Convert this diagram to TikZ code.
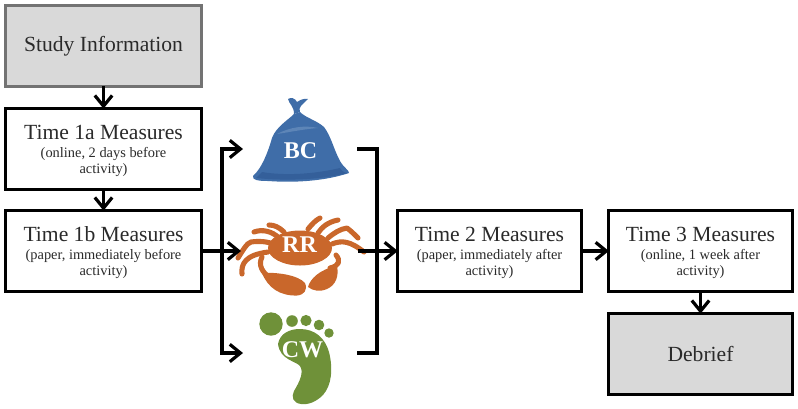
\documentclass[tikz,border=0pt]{standalone}
\usepackage{fontspec}
\setmainfont{Liberation Serif}
\usetikzlibrary{arrows.meta}
\definecolor{inktext}{HTML}{2A2A2A}
\definecolor{bagblue}{HTML}{3F6DA8}
\definecolor{bagdark}{HTML}{345F9A}
\definecolor{baglight}{HTML}{6A8FBE}
\definecolor{crabor}{HTML}{C9672B}
\definecolor{footgr}{HTML}{6F9139}
\newcommand{\headline}[1]{{\fontsize{16.2pt}{17pt}\selectfont #1}}
\newcommand{\stagehead}[1]{{\rule{0pt}{14pt}\fontsize{16.2pt}{17pt}\selectfont #1}}
\newcommand{\subline}[1]{{\fontsize{10.8pt}{14pt}\selectfont #1}}
\tikzset{
  x=0.75pt, y=-0.75pt,
  stage/.style={draw=black, line width=2.3pt, fill=white, text=inktext, align=center,
    minimum width=146pt, minimum height=60.5pt, inner sep=0pt, outer sep=0pt},
  widestage/.style={stage, minimum width=146.5pt},
  narrowstage/.style={stage, minimum width=137.5pt},
  shaded/.style={fill=black!15},
  flow/.style={line width=2.4pt, draw=black, -{Straight Barb[length=8pt,width=13pt,line width=2.4pt]}},
  rail/.style={line width=2.3pt, draw=black, line cap=rect},
  badge/.style={text=white, font=\bfseries\fontsize{18pt}{18pt}\selectfont, inner sep=0pt},
  crableg/.style={draw=crabor, line width=3.8pt, line cap=round, line join=round},
}
\begin{document}
\begin{tikzpicture}
\useasboundingbox (0,0) rectangle (798,408);

% Stage boxes
\node[widestage, shaded, draw=black!55] (study) at (103.5,46) {\headline{Study Information}};
\node[widestage] (t1a) at (103.5,149) {\stagehead{Time 1a Measures}\\[1.5pt]\subline{(online, 2 days before}\\\subline{activity)}};
\node[widestage] (t1b) at (103.5,251) {\stagehead{Time 1b Measures}\\[1.5pt]\subline{(paper, immediately before}\\\subline{activity)}};
\node[narrowstage] (t2) at (489.5,251) {\stagehead{Time 2 Measures}\\[1.5pt]\subline{(paper, immediately after}\\\subline{activity)}};
\node[narrowstage] (t3) at (700.5,251) {\stagehead{Time 3 Measures}\\[1.5pt]\subline{(online, 1 week after}\\\subline{activity)}};
\node[narrowstage, shaded] (debrief) at (700.5,354) {\headline{Debrief}};

% Rubbish bag
\fill[bagblue] (294,114) .. controls (288,120) and (276,127) .. (272,138)
  .. controls (268,152) and (262,168) .. (253,176)
  .. controls (252,180) and (258,181) .. (268,181)
  .. controls (295,183) and (325,181) .. (349,173)
  .. controls (349,170) and (344,168) .. (340,161)
  .. controls (334,150) and (331,136) .. (324,127)
  .. controls (316,120) and (306,118) .. (300,112) -- cycle;
\fill[bagblue] (294,114) -- (300,112) .. controls (298,107) and (302,105) .. (308,99)
  .. controls (304,98) and (300,100) .. (297,102)
  .. controls (295,98) and (291,97) .. (288,99)
  .. controls (289,104) and (294,106) .. (294,114) -- cycle;
\fill[baglight!70!bagblue] (277,134) .. controls (290,127) and (305,125) .. (318,128)
  .. controls (305,129) and (290,132) .. (277,134) -- cycle;
\fill[bagdark] (262,172) .. controls (285,176) and (315,174) .. (340,168)
  .. controls (342,172) and (346,173) .. (348,173)
  .. controls (320,180) and (285,181) .. (256,178) -- cycle;
\node[badge] (bc) at (300.5,150.5) {BC};

% Crab
\draw[crableg] (269,225) .. controls (274,225) and (279,227) .. (284,232);
\draw[crableg] (254,232) .. controls (262,229) and (272,231) .. (279,238);
\draw[crableg] (238,258) .. controls (243,250) and (247,243) .. (251,242)
  .. controls (258,241) and (268,241) .. (275,245);
\draw[crableg] (242,274) .. controls (241,264) and (245,255) .. (268,252);
\draw[crableg] (308,229) .. controls (312,224) and (316,220) .. (320,218);
\draw[crableg] (318,233) .. controls (322,227) and (328,222) .. (338,220);
\draw[crableg] (328,238) .. controls (334,233) and (340,229) .. (347,228)
  .. controls (351,231) and (354,234) .. (358,238);
\draw[crableg] (332,244) .. controls (342,240) and (350,241) .. (364,252);
\fill[crabor] (300,248) ellipse [x radius=32, y radius=17.5];
% Claw arms and pincers
\draw[crableg] (262,257) .. controls (258,265) and (262,272) .. (270,278);
\draw[crableg] (336,255) .. controls (341,261) and (339,266) .. (330,268);
\fill[crabor] (262,273) .. controls (277,272) and (298,275) .. (305,283)
  .. controls (308,290) and (304,295) .. (297,295.5)
  .. controls (280,296) and (268,288) .. (262,273) -- cycle;
\fill[crabor] (337,266) .. controls (339,276) and (336,285) .. (327,289)
  .. controls (320,292) and (313,291) .. (308,287)
  .. controls (310,279) and (320,269) .. (337,266) -- cycle;
\node[badge] (rr) at (299.5,245) {RR};

% Footprint
\fill[footgr] (271,324) circle [radius=11.7];
\fill[footgr] (292,321) circle [radius=5.8];
\fill[footgr] (306,320.5) circle [radius=5.6];
\fill[footgr] (319,325) circle [radius=5.3];
\fill[footgr] (329,333) circle [radius=4.7];
\fill[footgr] (278,344) .. controls (280,333) and (290,329) .. (300,329)
  .. controls (315,329) and (325,338) .. (329,352)
  .. controls (333,368) and (332,385) .. (323,395)
  .. controls (316,402) and (308,405) .. (301,404)
  .. controls (293,403) and (291,397) .. (294,391)
  .. controls (300,381) and (304,372) .. (300,366)
  .. controls (296,361) and (280,360) .. (278,344) -- cycle;
\node[badge] (cw) at (302.5,350) {CW};

% Fan-out and fan-in junctions
\coordinate (railLtop) at (222,149);
\coordinate (railLbot) at (222,353);
\coordinate (intoBC) at (243,149);
\coordinate (intoRR) at (241,251);
\coordinate (intoCW) at (243,353);
\coordinate (outBC) at (357,149);
\coordinate (outCW) at (357,353);
\coordinate (railRtop) at (377,149);
\coordinate (railRbot) at (377,353);
\coordinate (outRR) at (358,251);

% Connectors
\draw[flow] (study) -- (t1a);
\draw[flow] (t1a) -- (t1b);
\draw[flow] (t1b.east) -- (intoRR);
\draw[rail] (railLtop) -- (railLbot);
\draw[flow] (railLtop) -- (intoBC);
\draw[flow] (railLbot) -- (intoCW);
\draw[rail, line cap=butt, line join=miter] (outBC) -- (railRtop) -- (railRbot) -- (outCW);
\draw[flow] (outRR) -- (t2.west);
\draw[flow] (t2) -- (t3);
\draw[flow] (t3) -- (debrief);
\end{tikzpicture}
\end{document}
